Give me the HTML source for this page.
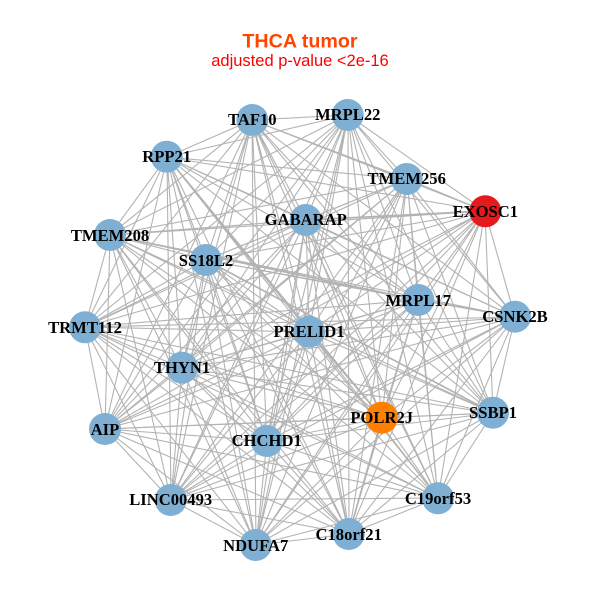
<!DOCTYPE html>
<html><head><meta charset="utf-8"><style>html,body{margin:0;padding:0;background:#fff}svg{display:block}</style></head><body>
<svg width="600" height="600" viewBox="0 0 600 600" xmlns="http://www.w3.org/2000/svg">
<rect width="600" height="600" fill="#fff"/>
<g fill="none" stroke="#b3b3b3" stroke-width="1.1">
<path d="M252 120L348 115 252 120 167 157 252 120 407 179 252 120 485 211 252 120 306 220 252 120 110 235 252 120 206 260 252 120 418 300 252 120 515 317 252 120 85 327 252 120 309 332 252 120 182 368 252 120 382 418 252 120 493 413 252 120 105 429 252 120 267 441 252 120 171 500 252 120 438 498 252 120 349 534 252 120 256 545"/>
<path d="M348 115L167 157 348 115 407 179 348 115 485 211 348 115 306 220 348 115 110 235 348 115 206 260 348 115 418 300 348 115 515 317 348 115 85 327 348 115 309 332 348 115 182 368 348 115 382 418 348 115 493 413 348 115 105 429 348 115 267 441 348 115 171 500 348 115 438 498 348 115 349 534 348 115 256 545"/>
<path d="M167 157L407 179 167 157 485 211 167 157 306 220 167 157 110 235 167 157 206 260 167 157 418 300 167 157 515 317 167 157 85 327 167 157 309 332 167 157 182 368 167 157 382 418 167 157 493 413 167 157 105 429 167 157 267 441 167 157 171 500 167 157 438 498 167 157 349 534 167 157 256 545"/>
<path d="M407 179L485 211 407 179 306 220 407 179 110 235 407 179 206 260 407 179 418 300 407 179 515 317 407 179 85 327 407 179 309 332 407 179 182 368 407 179 382 418 407 179 493 413 407 179 105 429 407 179 267 441 407 179 171 500 407 179 438 498 407 179 349 534 407 179 256 545"/>
<path d="M485 211L306 220 485 211 110 235 485 211 206 260 485 211 418 300 485 211 515 317 485 211 85 327 485 211 309 332 485 211 182 368 485 211 382 418 485 211 493 413 485 211 105 429 485 211 267 441 485 211 171 500 485 211 438 498 485 211 349 534 485 211 256 545"/>
<path d="M306 220L110 235 306 220 206 260 306 220 418 300 306 220 515 317 306 220 85 327 306 220 309 332 306 220 182 368 306 220 382 418 306 220 493 413 306 220 105 429 306 220 267 441 306 220 171 500 306 220 438 498 306 220 349 534 306 220 256 545"/>
<path d="M110 235L206 260 110 235 418 300 110 235 515 317 110 235 85 327 110 235 309 332 110 235 182 368 110 235 382 418 110 235 493 413 110 235 105 429 110 235 267 441 110 235 171 500 110 235 438 498 110 235 349 534 110 235 256 545"/>
<path d="M206 260L418 300 206 260 515 317 206 260 85 327 206 260 309 332 206 260 182 368 206 260 382 418 206 260 493 413 206 260 105 429 206 260 267 441 206 260 171 500 206 260 438 498 206 260 349 534 206 260 256 545"/>
<path d="M418 300L515 317 418 300 85 327 418 300 309 332 418 300 182 368 418 300 382 418 418 300 493 413 418 300 105 429 418 300 267 441 418 300 171 500 418 300 438 498 418 300 349 534 418 300 256 545"/>
<path d="M515 317L85 327 515 317 309 332 515 317 182 368 515 317 382 418 515 317 493 413 515 317 105 429 515 317 267 441 515 317 171 500 515 317 438 498 515 317 349 534 515 317 256 545"/>
<path d="M85 327L309 332 85 327 182 368 85 327 382 418 85 327 493 413 85 327 105 429 85 327 267 441 85 327 171 500 85 327 438 498 85 327 349 534 85 327 256 545"/>
<path d="M309 332L182 368 309 332 382 418 309 332 493 413 309 332 105 429 309 332 267 441 309 332 171 500 309 332 438 498 309 332 349 534 309 332 256 545"/>
<path d="M182 368L382 418 182 368 493 413 182 368 105 429 182 368 267 441 182 368 171 500 182 368 438 498 182 368 349 534 182 368 256 545"/>
<path d="M382 418L493 413 382 418 105 429 382 418 267 441 382 418 171 500 382 418 438 498 382 418 349 534 382 418 256 545"/>
<path d="M493 413L105 429 493 413 267 441 493 413 171 500 493 413 438 498 493 413 349 534 493 413 256 545"/>
<path d="M105 429L267 441 105 429 171 500 105 429 438 498 105 429 349 534 105 429 256 545"/>
<path d="M267 441L171 500 267 441 438 498 267 441 349 534 267 441 256 545"/>
<path d="M171 500L438 498 171 500 349 534 171 500 256 545"/>
<path d="M438 498L349 534 438 498 256 545"/>
<path d="M349 534L256 545"/>
</g>
<g fill="none" stroke="#b3b3b3" stroke-width="1.7">
<path d="M167 157L382 418M110 235L418 300M306 220L485 211M382 418L349 534M206 260L493 413"/>
</g>
<g fill="#7fb0d3">
<circle cx="252.3" cy="120" r="16"/><circle cx="347.7" cy="115" r="16"/><circle cx="166.7" cy="156.7" r="16"/><circle cx="406.7" cy="179" r="16"/>
<circle cx="485.3" cy="211.3" r="16" fill="#e41a1c"/>
<circle cx="305.7" cy="220" r="16"/><circle cx="110" cy="235" r="16"/><circle cx="206" cy="260" r="16"/><circle cx="418.3" cy="300" r="16"/><circle cx="515" cy="316.7" r="16"/><circle cx="85" cy="327.3" r="16"/><circle cx="309" cy="331.7" r="16"/><circle cx="182" cy="367.7" r="16"/>
<circle cx="381.7" cy="417.7" r="16" fill="#ff7f00"/>
<circle cx="493" cy="412.7" r="16"/><circle cx="105" cy="429" r="16"/><circle cx="266.7" cy="441" r="16"/><circle cx="170.7" cy="500" r="16"/><circle cx="438" cy="498.3" r="16"/><circle cx="348.7" cy="534" r="16"/><circle cx="255.7" cy="545" r="16"/>
</g>
<g font-family="'Liberation Serif',serif" font-weight="bold" font-size="16.6" fill="#000" text-anchor="middle">
<text x="252.3" y="125">TAF10</text><text x="347.7" y="120">MRPL22</text><text x="166.7" y="162">RPP21</text><text x="406.7" y="184">TMEM256</text><text x="485.3" y="217">EXOSC1</text><text x="305.7" y="225">GABARAP</text><text x="110" y="241">TMEM208</text><text x="206" y="266">SS18L2</text><text x="418.3" y="306">MRPL17</text><text x="515" y="322">CSNK2B</text><text x="85" y="333">TRMT112</text><text x="309" y="337">PRELID1</text><text x="182" y="373">THYN1</text><text x="381.7" y="423">POLR2J</text><text x="493" y="418">SSBP1</text><text x="105" y="435">AIP</text><text x="266.7" y="446">CHCHD1</text><text x="170.7" y="505">LINC00493</text><text x="438" y="504">C19orf53</text><text x="348.7" y="540">C18orf21</text><text x="255.7" y="551">NDUFA7</text>
</g>
<g font-family="'Liberation Sans',sans-serif" text-anchor="middle">
<text x="300" y="47.5" font-size="19.7" font-weight="bold" fill="#ff4500">THCA tumor</text>
<text x="300" y="66" font-size="16.5" fill="#ff0000">adjusted p-value &lt;2e-16</text>
</g>
</svg>
</body></html>
